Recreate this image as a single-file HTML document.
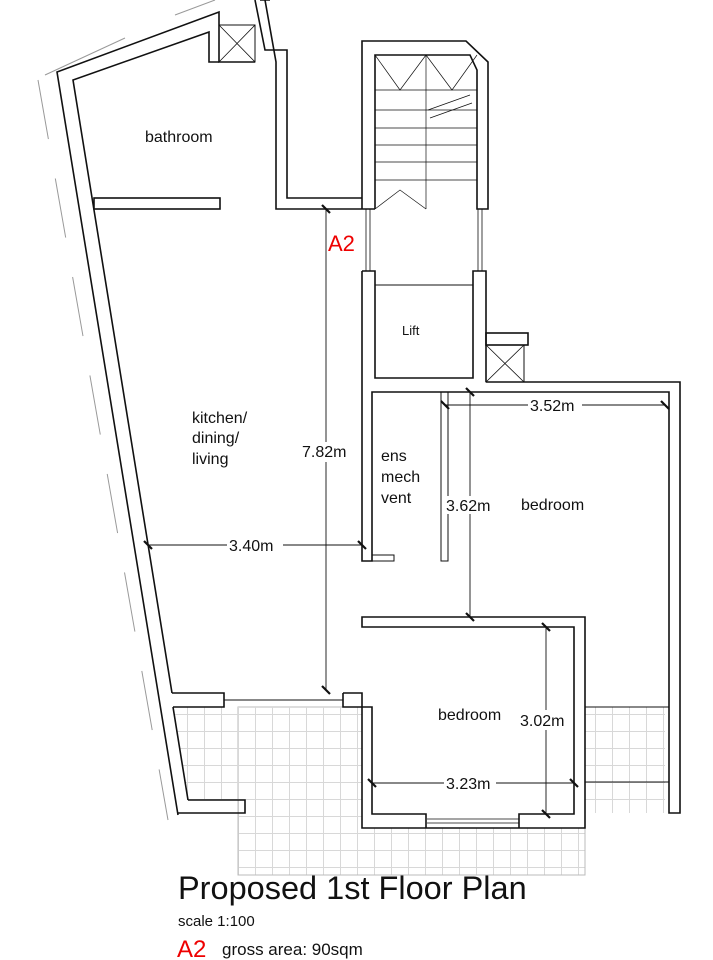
<!DOCTYPE html>
<html><head><meta charset="utf-8"><style>
html,body{margin:0;padding:0;background:#fff}
svg{display:block}
text{font-family:"Liberation Sans",sans-serif;fill:#111}
</style></head><body>
<svg width="713" height="960" viewBox="0 0 713 960" xmlns="http://www.w3.org/2000/svg">
<defs>
<pattern id="tile" width="17" height="17" patternUnits="userSpaceOnUse">
<path d="M0 0.5H17M0.5 0V17" stroke="#d8d8d8" stroke-width="1" fill="none"/>
</pattern>
</defs>
<!-- terraces -->
<rect x="238" y="707" width="347" height="168" fill="url(#tile)" stroke="#bbb"/>
<polygon points="174,707 343,707 343,800 188,800" fill="url(#tile)"/>
<rect x="585" y="707" width="80" height="106" fill="url(#tile)"/>
<rect x="362" y="627" width="223" height="201" fill="#fff"/>
<!-- dashed outer lines -->
<path d="M38 80 L168 820" stroke="#999" stroke-dasharray="60 40" fill="none"/>
<path d="M45 75 L125 38 M175 15 L215 0" stroke="#999" fill="none"/>
<g fill="none" stroke="#111" stroke-width="1.6">
<!-- left wall -->
<path d="M178 815 L57 72 L219 12 L219 62 L255 62"/>
<path d="M172 693 L73 80 L209 32 L209 62 L219 62"/>
<path d="M173 707 L188 800"/>
<path d="M172 693 H224 V707 H173"/>
<path d="M178 813 H245 V800 H188"/>
<line x1="224" y1="700" x2="343" y2="700" stroke-width="1"/>
<!-- window top -->
<rect x="219" y="25" width="36" height="37" stroke-width="1"/>
<path d="M219 25 L255 62 M255 25 L219 62" stroke-width="0.8"/>
<path d="M255 0 L265 50 H287 V198 H362 M260 0 L270 0"/>
<path d="M265 0 L276 62 V209 H375"/>
<!-- bathroom partition -->
<rect x="94" y="198" width="126" height="11"/>
<!-- stair -->
<path d="M362 209 V41 H466 L488 62 V209 H477 V70 L470 55 H375 V209"/>
<g stroke-width="0.7">
<path d="M426 55 V209"/>
<path d="M375 90 H477 M375 110 H477 M375 128 H477 M375 145 H477 M375 162 H477 M375 180 H477"/>
<path d="M375 55 L400 90 L426 55 M426 55 L452 90 L477 55 M375 209 L400 190 L426 209"/>
<path d="M428 110 L470 95 M430 118 L472 103"/>
</g>
<!-- links stair-lift -->
<path d="M366 209 V271 M370 209 V271 M478 209 V271 M482 209 V271" stroke-width="0.8"/>
<!-- lift -->
<path d="M362 271 H375 V378 H473 V271 H486 V382"/>
<path d="M375 285 H473" stroke-width="1"/>
<!-- small box -->
<rect x="486" y="333" width="42" height="12"/>
<rect x="486" y="345" width="38" height="37" stroke-width="1"/>
<path d="M486 345 L524 382 M524 345 L486 382" stroke-width="0.8"/>
<!-- bedroom1 walls -->
<path d="M362 271 V561 H372 V392 H669 V813 H680 V382 H486"/>
<rect x="372" y="555" width="22" height="6" stroke-width="1"/>
<rect x="441" y="392" width="7" height="169" stroke-width="1"/>
<path d="M669 707 H585 M585 782 H669" stroke-width="1"/>
<!-- bedroom2 -->
<path d="M343 693 H362 V828 H585 V617 H362 V627 H574 V814 H519 V828"/>
<path d="M426 828 V814 H372 V707 H343 V693"/>
<path d="M427 819 H519 M427 823 H519" stroke-width="0.8"/>
<!-- dimensions -->
<g stroke-width="0.9">
<path d="M326 209 V690"/>
<path d="M148 545 H362"/>
<path d="M445 405 H665"/>
<path d="M470 392 V617"/>
<path d="M372 783 H574"/>
<path d="M546 627 V814"/>
</g>
<g stroke-width="2.2">
<path d="M322 205 L330 213 M322 686 L330 694 M144 541 L152 549 M358 541 L366 549 M441 401 L449 409 M661 401 L669 409 M466 388 L474 396 M466 613 L474 621 M368 779 L376 787 M570 779 L578 787 M542 623 L550 631 M542 810 L550 818"/>
</g>
</g>
<g font-size="16">
<rect x="300" y="442" width="52" height="20" fill="#fff"/>
<rect x="227" y="536" width="56" height="18" fill="#fff"/>
<rect x="528" y="396" width="54" height="18" fill="#fff"/>
<rect x="445" y="496" width="52" height="18" fill="#fff"/>
<rect x="444" y="774" width="52" height="18" fill="#fff"/>
<rect x="518" y="710" width="52" height="20" fill="#fff"/>
<text x="145" y="142">bathroom</text>
<text x="192" y="423">kitchen/</text>
<text x="192" y="443">dining/</text>
<text x="192" y="464">living</text>
<text x="302" y="457">7.82m</text>
<text x="229" y="551">3.40m</text>
<text x="381" y="461">ens</text>
<text x="381" y="482">mech</text>
<text x="381" y="503">vent</text>
<text x="530" y="411">3.52m</text>
<text x="446" y="511">3.62m</text>
<text x="521" y="510">bedroom</text>
<text x="438" y="720">bedroom</text>
<text x="520" y="726">3.02m</text>
<text x="446" y="789">3.23m</text>
<text x="402" y="335" font-size="13">Lift</text>
</g>
<text x="328" y="251" font-size="22" style="fill:#e00">A2</text>
<text x="178" y="899" font-size="32.5">Proposed 1st Floor Plan</text>
<text x="178" y="926" font-size="15">scale 1:100</text>
<text x="177" y="957" font-size="24" style="fill:#e00">A2</text>
<text x="222" y="955" font-size="17">gross area: 90sqm</text>
</svg>
</body></html>
